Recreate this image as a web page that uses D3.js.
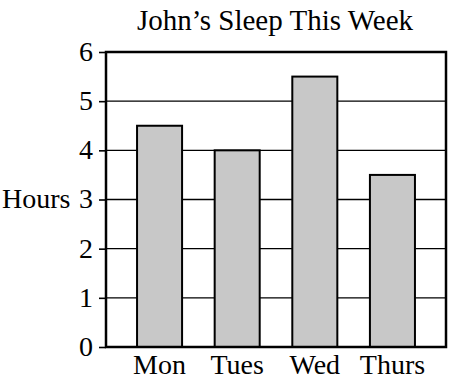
<!DOCTYPE html>
<html>
<head>
<meta charset="utf-8">
<script src="https://cdn.jsdelivr.net/npm/d3@7"></script>
<style>
  body { margin: 0; background: white; }
  text { font-family: "Liberation Serif", "DejaVu Serif", serif; fill: black; }
</style>
</head>
<body>
<div class="board"></div>
<script>
var margin = { top: 52, right: 4, bottom: 43, left: 106 },
    width = 450 - margin.left - margin.right,
    height = 390 - margin.top - margin.bottom;

TITLE = "John\u2019s Sleep This Week"
Y_LABEL = "Hours"

var days = ["Mon", "Tues", "Wed", "Thurs"]
var hours = [4.5, 4.0, 5.5, 3.5]
var yTicks = [0, 1, 2, 3, 4, 5, 6]

var svg = d3.select(".board")
    .append("svg")
    .attr("width", 450)
    .attr("height", 390)

var g = svg.append("g")
    .attr("transform", `translate(${margin.left}, ${margin.top})`)

let x = d3.scaleBand()
    .domain(days)
    .range([0, width])
    .paddingInner(0.42)
    .paddingOuter(0.4)

let y = d3.scaleLinear()
    .domain([0, 6])
    .range([height, 0])

// grid lines behind bars
g.selectAll(".grid")
    .data(yTicks.slice(1, -1))
    .enter()
    .append("line")
    .classed("grid", true)
    .attr("x1", 0)
    .attr("x2", width)
    .attr("y1", d => y(d))
    .attr("y2", d => y(d))
    .attr("stroke", "black")
    .attr("stroke-width", 1.4)

g.selectAll(".bar")
    .data(days)
    .enter()
    .append("rect")
    .classed("bar", true)
    .attr("x", d => x(d))
    .attr("y", (d, i) => y(hours[i]))
    .attr("width", x.bandwidth())
    .attr("height", (d, i) => y(0) - y(hours[i]))
    .attr("fill", "#c8c8c8")
    .attr("stroke", "black")
    .attr("stroke-width", 2)

// frame
g.append("rect")
    .attr("x", 0)
    .attr("y", 0)
    .attr("width", width)
    .attr("height", height)
    .attr("fill", "none")
    .attr("stroke", "black")
    .attr("stroke-width", 2.5)

let yAxis = g.append("g")
    .call(d3.axisLeft(y).tickValues(yTicks).tickFormat(d3.format("d")).tickSize(7).tickPadding(6))

yAxis.select(".domain").remove()
yAxis.selectAll(".tick line").attr("stroke", "black").attr("stroke-width", 1.6)
yAxis.selectAll(".tick text")
    .attr("font-size", 28)
    .attr("font-family", "Liberation Serif")
    .attr("fill", "black")
    .attr("dy", "0.3em")

let xAxis = g.append("g")
    .attr("transform", `translate(0, ${height})`)
    .call(d3.axisBottom(x).tickSize(0).tickPadding(0))

xAxis.select(".domain").remove()
xAxis.selectAll(".tick text")
    .attr("font-size", 28)
    .attr("font-family", "Liberation Serif")
    .attr("fill", "black")
    .attr("dy", 0)
    .attr("y", 27)

svg.append("text")
    .attr("x", 275)
    .attr("y", 30)
    .attr("text-anchor", "middle")
    .attr("font-size", 29)
    .text(TITLE)

svg.append("text")
    .attr("x", 2)
    .attr("y", margin.top + y(3) + 8)
    .attr("font-size", 28)
    .text(Y_LABEL)
</script>
</body>
</html>
